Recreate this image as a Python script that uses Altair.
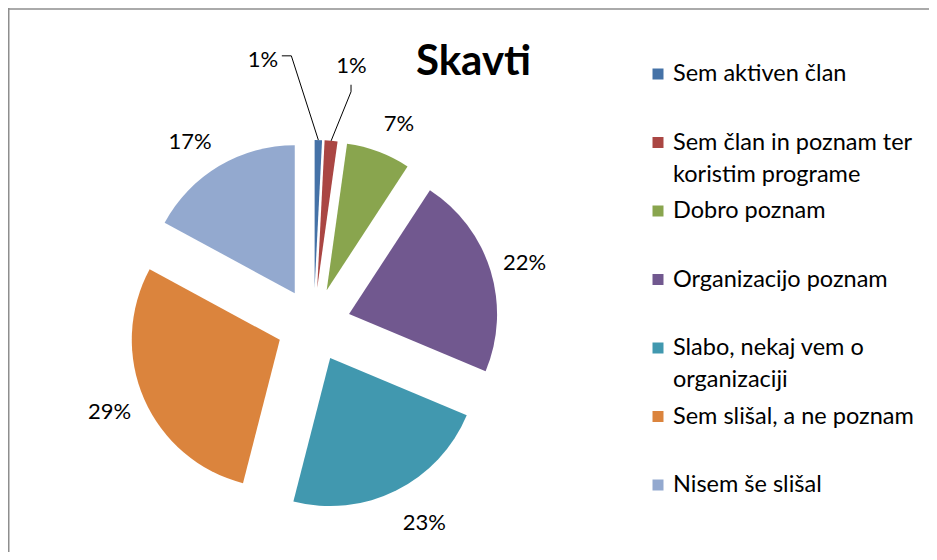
import math
import altair as alt
import pandas as pd

# ---------------- data ----------------
categories = [
    "Sem aktiven član",
    "Sem član in poznam ter koristim programe",
    "Dobro poznam",
    "Organizacijo poznam",
    "Slabo, nekaj vem o organizaciji",
    "Sem slišal, a ne poznam",
    "Nisem še slišal",
]
legend_labels = [
    "Sem aktiven član",
    "Sem član in poznam ter\nkoristim programe",
    "Dobro poznam",
    "Organizacijo poznam",
    "Slabo, nekaj vem o\norganizaciji",
    "Sem slišal, a ne poznam",
    "Nisem še slišal",
]
shares = [0.8, 1.4, 7.0, 22.1, 22.7, 28.9, 17.1]
colors = ["#4572A7", "#AA4643", "#89A54E", "#71588F", "#4198AF", "#DB843D", "#93A9CF"]
title_text = "Skavti"

# ---------------- layout ----------------
W, H = 921, 544
CX, CY = 305.7, 317.0
R = 148
EXPLODE = 37
label_shift_deg = [-12.3, 2.9, 2.5, 0.6, -2.7, 0.5, -3.2]
label_radius = [270, 262, 218, 220, 227, 222, 221]
leader_offsets = {0: [(19, -4), (28.5, -4)], 1: [(-0.5, 19), (-0.5, 26)]}

total = sum(shares)
rows, lines = [], []
cum = 0.0
for i, (cat, s) in enumerate(zip(categories, shares)):
    a0 = cum / total * 2 * math.pi
    a1 = (cum + s) / total * 2 * math.pi
    cum += s
    mid = (a0 + a1) / 2
    ox = CX + EXPLODE * math.sin(mid)
    oy = CY - EXPLODE * math.cos(mid)
    la = mid + math.radians(label_shift_deg[i])
    lx = CX + label_radius[i] * math.sin(la)
    ly = CY - label_radius[i] * math.cos(la)
    rows.append(dict(cat=cat, t0=a0, t1=a1, ox=ox, oy=oy, lx=lx, ly=ly,
                     lab=f"{round(s)}%"))
    if i in leader_offsets:
        pts = [(lx + dx, ly + dy) for dx, dy in leader_offsets[i]]
        pts.append((CX + (EXPLODE + R) * math.sin(mid), CY - (EXPLODE + R) * math.cos(mid)))
        for k, (px, py) in enumerate(pts):
            lines.append(dict(cat=cat, seq=k, px=px, py=py))

pie_df = pd.DataFrame(rows)
line_df = pd.DataFrame(lines)
leg_df = pd.DataFrame({"cat": categories, "label": legend_labels})
one = pd.DataFrame({"a": [0]})

xs = alt.Scale(domain=[0, W], range=[0, W], nice=False, zero=False)
ys = alt.Scale(domain=[0, H], range=[0, H], nice=False, zero=False)
color = alt.Color("cat:N", scale=alt.Scale(domain=categories, range=colors), legend=None)
leg_y = alt.Y("cat:N", sort=categories, axis=None,
              scale=alt.Scale(type="point", domain=categories, range=[66, 477], padding=0))

arcs = alt.Chart(pie_df).mark_arc(radius=R).encode(
    x=alt.X("ox:Q", scale=xs, axis=None),
    y=alt.Y("oy:Q", scale=ys, axis=None),
    theta=alt.Theta("t0:Q", scale=None),
    theta2=alt.Theta2("t1:Q"),
    color=color,
)

labels = alt.Chart(pie_df).mark_text(
    font="Lato", fontSize=22, align="center", baseline="middle", color="black"
).encode(
    x=alt.X("lx:Q", scale=xs, axis=None),
    y=alt.Y("ly:Q", scale=ys, axis=None),
    text="lab:N",
)

leaders = alt.Chart(line_df).mark_line(color="black", strokeWidth=1).encode(
    x=alt.X("px:Q", scale=xs, axis=None),
    y=alt.Y("py:Q", scale=ys, axis=None),
    detail="cat:N",
    order="seq:Q",
)

leg_sq = alt.Chart(leg_df).mark_square(size=121, opacity=1, filled=True).encode(
    x=alt.value(650), y=leg_y, color=color
)
leg_txt = alt.Chart(leg_df).mark_text(
    font="Lato", fontSize=23.5, align="left", baseline="middle",
    lineBreak="\n", lineHeight=32, color="black"
).encode(x=alt.value(665), y=leg_y, text="label:N")

title = alt.Chart(one).mark_text(
    text=title_text, font="Lato", fontSize=42, fontWeight="bold",
    align="center", baseline="alphabetic", color="black"
).encode(x=alt.value(465.5), y=alt.value(67))

top_border = alt.Chart(one).mark_rule(color="#8E8E8E", strokeWidth=1.5).encode(
    x=alt.value(0), x2=alt.value(W), y=alt.value(1)
)
left_border = alt.Chart(one).mark_rule(color="#8E8E8E", strokeWidth=1.5).encode(
    x=alt.value(0.75), y=alt.value(0), y2=alt.value(H)
)

chart = alt.layer(
    top_border, left_border, arcs, leaders, labels, leg_sq, leg_txt, title
).resolve_scale(
    x="independent", y="independent"
).properties(
    width=W, height=H, padding=0,
    autosize=alt.AutoSizeParams(type="none"),
    background="white",
).configure_view(stroke="transparent", strokeWidth=0)

chart.save("out.html", embed_options={"renderer": "svg", "actions": False})
